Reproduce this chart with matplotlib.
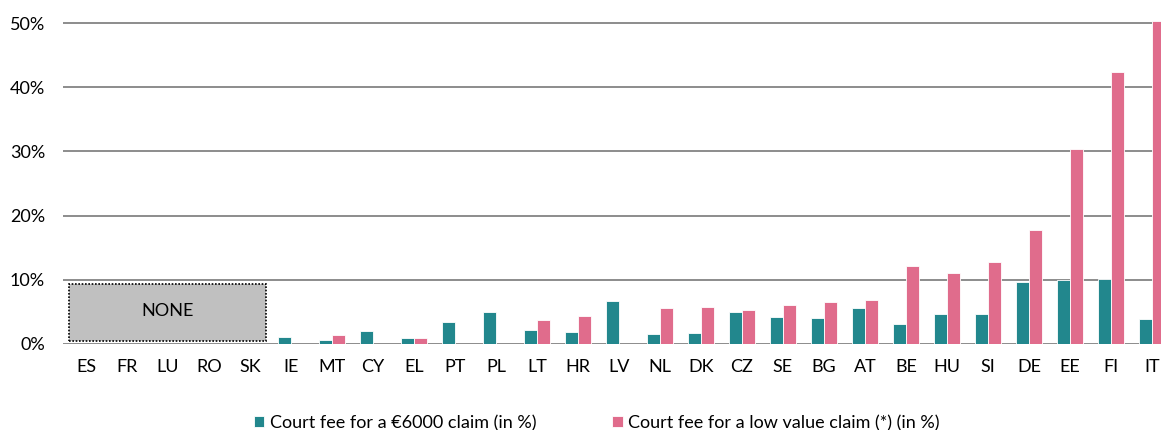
import numpy as np
import matplotlib
matplotlib.use('Agg')
import matplotlib.pyplot as plt
from matplotlib.patches import Rectangle

countries = ['ES','FR','LU','RO','SK','IE','MT','CY','EL','PT','PL','LT','HR','LV',
             'NL','DK','CZ','SE','BG','AT','BE','HU','SI','DE','EE','FI','IT']
fee_6000 = [0,0,0,0,0,1.1,0.6,2.0,1.0,3.4,5.0,2.2,1.8,6.7,
            1.55,1.7,5.0,4.2,4.0,5.65,3.1,4.7,4.7,9.6,9.95,10.1,3.9]
fee_low = [0,0,0,0,0,0,1.4,0,1.0,0,0,3.8,4.3,0,
           5.65,5.75,5.3,6.05,6.5,6.9,12.2,11.1,12.8,17.8,30.3,42.4,50.3]
none_label = 'NONE'
legend_labels = ['Court fee for a €6000 claim (in %)',
                 'Court fee for a low value claim (*) (in %)']

teal = '#22878d'
pink = '#e06c8c'

plt.rcParams['font.family'] = ['Lato', 'DejaVu Sans']

fig = plt.figure(figsize=(11.61, 4.30), dpi=100)
ax = fig.add_axes([63/1161, 86/430, 1 - 63/1161, 50.5*6.42/430])

x = np.arange(len(countries))
w = 0.32
b1 = ax.bar(x - w/2, fee_6000, w, color=teal, edgecolor='white', linewidth=0.6,
            label=legend_labels[0], zorder=3)
b2 = ax.bar(x + w/2, fee_low, w, color=pink, edgecolor='white', linewidth=0.6,
            label=legend_labels[1], zorder=3)

# grey box for countries without fees
ax.add_patch(Rectangle((-0.41, 0.47), 4.8, 8.88, facecolor='#c0c0c0',
                       edgecolor='black', linestyle=(0, (1, 1)), linewidth=1.2, zorder=4))
ax.text(2.0, 5.1, none_label, ha='center', va='center', fontsize=13, zorder=5)

ax.set_xlim(-0.56, 26.22)
ax.set_ylim(0, 50.5)
ax.set_yticks(np.arange(0, 51, 10))
ax.set_yticklabels([f'{v}%' for v in range(0, 51, 10)], fontsize=13)
ax.set_xticks(x)
ax.set_xticklabels(countries, fontsize=13)
ax.tick_params(length=0)
ax.tick_params(axis='x', pad=11)
ax.tick_params(axis='y', pad=13)
ax.grid(axis='y', color='#8c8c8c', linewidth=1.4, zorder=0)
for s in ax.spines.values():
    s.set_visible(False)

fig.legend(handles=[b1, b2], loc='center', bbox_to_anchor=(0.514, 1 - 423/430),
           ncol=2, frameon=False, fontsize=13, handlelength=0.6, handleheight=0.6,
           handletextpad=0.3, columnspacing=4.2)

fig.savefig('out.png', dpi=100)
